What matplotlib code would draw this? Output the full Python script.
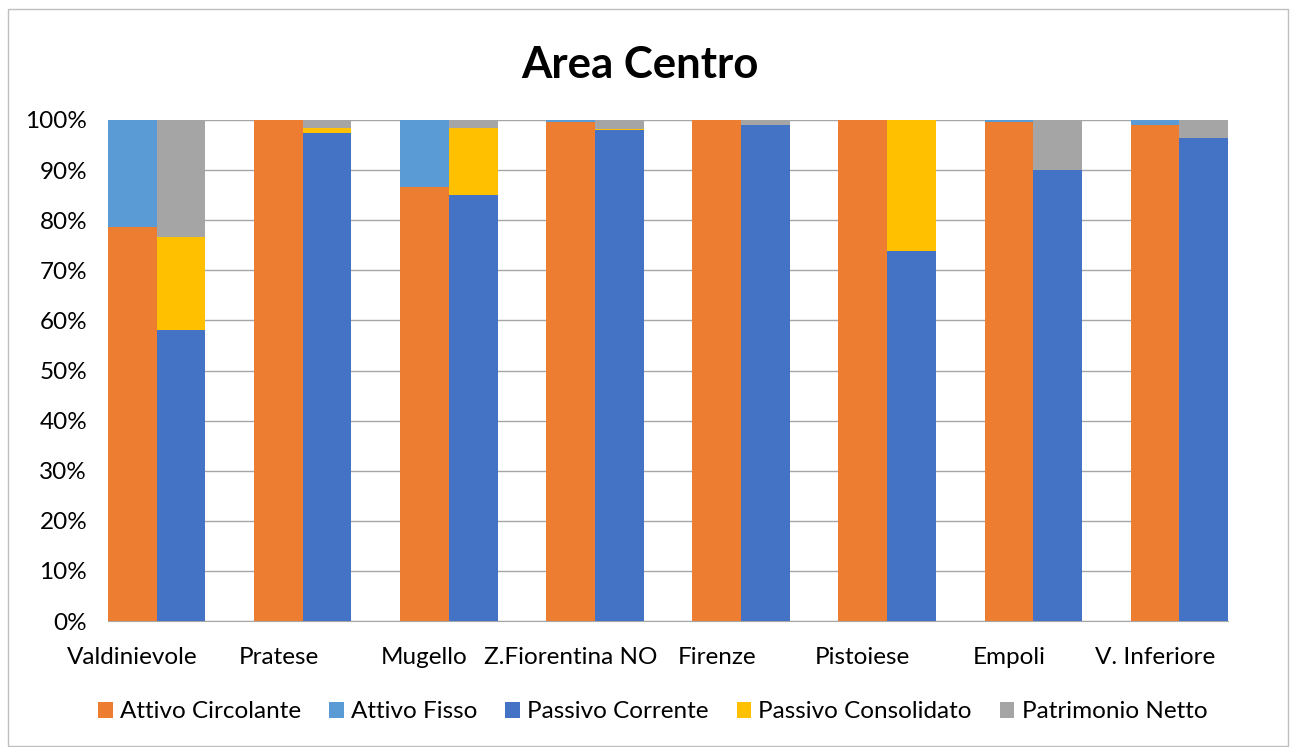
import numpy as np
import matplotlib.pyplot as plt
from matplotlib.patches import Rectangle

plt.rcParams['font.family'] = ['Lato', 'DejaVu Sans']

# dati (percentuali)
zone = ['Valdinievole', 'Pratese', 'Mugello', 'Z.Fiorentina NO',
        'Firenze', 'Pistoiese', 'Empoli', 'V. Inferiore']
attivo_circolante = [78.6, 100.0, 86.6, 99.7, 100.0, 100.0, 99.6, 99.1]
attivo_fisso = [21.4, 0.0, 13.4, 0.3, 0.0, 0.0, 0.4, 0.9]
passivo_corrente = [58.1, 97.5, 85.0, 98.0, 99.0, 73.9, 90.0, 96.4]
passivo_consolidato = [18.5, 1.0, 13.5, 0.3, 0.0, 26.1, 0.0, 0.0]
patrimonio_netto = [23.4, 1.5, 1.5, 1.7, 1.0, 0.0, 10.0, 3.6]

c_circ = '#ED7D31'
c_fisso = '#5B9BD5'
c_corr = '#4472C4'
c_cons = '#FFC000'
c_pn = '#A5A5A5'

fig = plt.figure(figsize=(12.9, 7.47), dpi=100)
ax = fig.add_axes([108/1290, 1-621/747, 1120/1290, 501/747])

n = len(zone)
x_att = np.arange(n) * 3 + 0.5
x_pas = x_att + 1

ac = np.array(attivo_circolante)
af = np.array(attivo_fisso)
pc = np.array(passivo_corrente)
pcons = np.array(passivo_consolidato)
pn = np.array(patrimonio_netto)

ax.bar(x_att, ac, width=1, color=c_circ, label='Attivo Circolante', zorder=3)
ax.bar(x_att, af, width=1, bottom=ac, color=c_fisso, label='Attivo Fisso', zorder=3)
ax.bar(x_pas, pc, width=1, color=c_corr, label='Passivo Corrente', zorder=3)
ax.bar(x_pas, pcons, width=1, bottom=pc, color=c_cons, label='Passivo Consolidato', zorder=3)
ax.bar(x_pas, pn, width=1, bottom=pc + pcons, color=c_pn, label='Patrimonio Netto', zorder=3)

ax.set_xlim(0, 3 * n - 1)
ax.set_ylim(0, 100)
ax.set_yticks(np.arange(0, 101, 10))
ax.set_yticklabels([f'{v}%' for v in range(0, 101, 10)])
ax.set_xticks(x_att)
ax.set_xticklabels(zone)
ax.tick_params(axis='both', length=0, labelsize=17.5, colors='#000000')
ax.tick_params(axis='x', pad=19)
ax.tick_params(axis='y', pad=15)
ax.yaxis.grid(True, color='#a6a6a6', linewidth=1, zorder=0)
for s in ['top', 'right', 'left']:
    ax.spines[s].set_visible(False)
ax.spines['bottom'].set_color('#a6a6a6')

fig.text(0.496, 1 - 65/747, 'Area Centro', ha='center', va='center',
         fontsize=31.5, fontweight='bold')

handles, labels = ax.get_legend_handles_labels()
fig.legend(handles, labels, loc='center', bbox_to_anchor=(0.506, 1 - 712/747),
           ncol=5, frameon=False, fontsize=17.5, handlelength=0.6, handleheight=0.6,
           handletextpad=0.3, columnspacing=1.15)

fig.add_artist(Rectangle((8/1290, 0.002), 1 - 10/1290, 1 - 10/747,
                         transform=fig.transFigure, fill=False,
                         edgecolor='#bfbfbf', linewidth=1))

fig.savefig('out.png', dpi=100)
